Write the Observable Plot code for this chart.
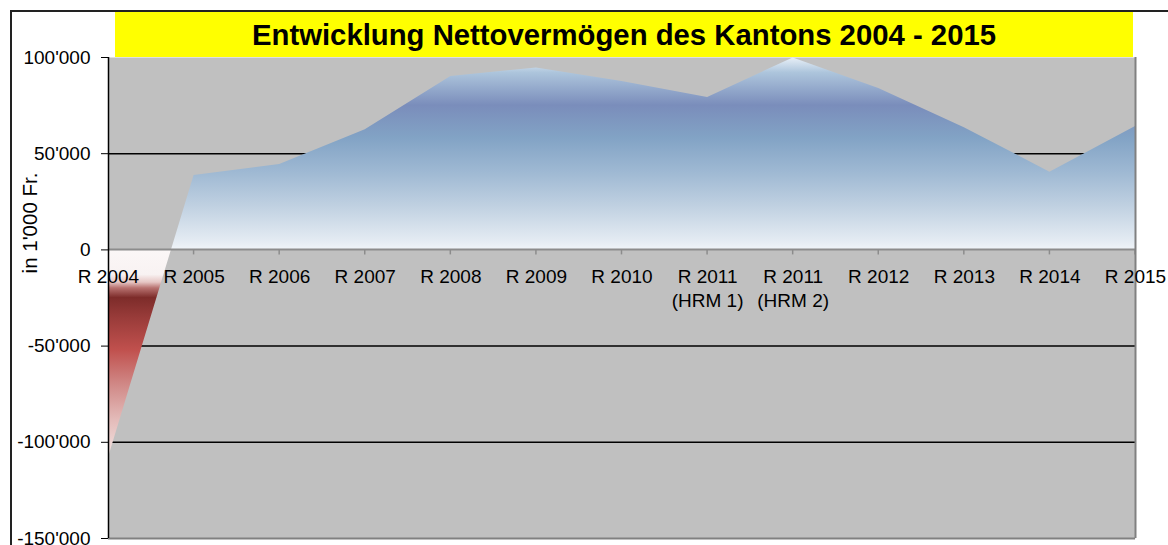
<!DOCTYPE html>
<html>
<head>
<meta charset="utf-8">
<script src="https://cdn.jsdelivr.net/npm/d3@7"></script>
<script src="https://cdn.jsdelivr.net/npm/@observablehq/plot@0.6"></script>
<style>
html,body{margin:0;padding:0;background:#fff;overflow:hidden;}
#wrap{position:relative;width:1168px;height:545px;overflow:hidden;font-family:"Liberation Sans",Arial,sans-serif;}
#border{position:absolute;left:10px;top:10px;width:2000px;height:2000px;border-left:2px solid #222;border-top:2px solid #222;pointer-events:none;z-index:2;}
#title{position:absolute;left:115px;top:12px;width:1018px;height:45px;background:#ffff00;font-weight:bold;font-size:29.3px;line-height:45px;text-align:center;color:#000;z-index:3;white-space:nowrap;}
#ylabel{position:absolute;left:30px;top:223px;transform:translate(-50%,-50%) rotate(-90deg);font-size:20.5px;line-height:20px;white-space:nowrap;color:#000;z-index:3;}
#chart{position:absolute;left:0;top:0;}
</style>
</head>
<body>
<div id="wrap">
  <div id="chart"></div>
  <div id="border"></div>
  <div id="title">Entwicklung Nettovermögen des Kantons 2004 - 2015</div>
  <div id="ylabel">in 1'000 Fr.</div>
</div>
<script>
// ---- data ----
const categories = ["R 2004", "R 2005", "R 2006", "R 2007", "R 2008", "R 2009", "R 2010",
  "R 2011\n(HRM 1)", "R 2011\n(HRM 2)", "R 2012", "R 2013", "R 2014", "R 2015"];
const netAssets = [-108000, 38700, 44400, 62500, 90100, 94600, 87500, 79200, 99800, 83900, 63500, 40400, 64100];
const yTicks = [-150000, -100000, -50000, 0, 50000, 100000];
const gridValues = [50000, -50000, -100000];

// ---- style (gradient stops by value) ----
const gradientStops = [
  [100000, "#eaf1f8"], [92000, "#adc5dc"], [75000, "#7a8dbb"], [58000, "#82a3c5"],
  [40000, "#9fb9d3"], [23000, "#bfd0e1"], [4000, "#e5ecf3"], [0, "#f0f4f8"],
  [-1, "#fbf7f7"], [-13000, "#f8f2f2"], [-17000, "#e6c6c4"], [-20000, "#b87270"],
  [-25000, "#7d2c2a"], [-35000, "#983b39"], [-52000, "#c0504d"], [-70000, "#d08886"],
  [-88000, "#e3bab8"], [-108000, "#f3e4e2"]
];

const rows = categories.map((c, i) => ({cat: c, value: netAssets[i]}));
const fmt = d3.formatLocale({decimal: ".", thousands: "'", grouping: [3], currency: ["", ""], minus: "-"}).format(",d");

const gradientMark = (index, scales) => {
  const y = scales.y;
  const top = y(yTicks[yTicks.length - 1]);
  const bottom = y(yTicks[0]);
  const defs = d3.create("svg:defs");
  const lg = defs.append("linearGradient").attr("id", "netGrad")
    .attr("gradientUnits", "userSpaceOnUse")
    .attr("x1", 0).attr("x2", 0).attr("y1", top).attr("y2", bottom);
  for (const [v, c] of gradientStops) {
    lg.append("stop").attr("offset", (y(v) - top) / (bottom - top)).attr("stop-color", c);
  }
  return defs.node();
};

const xAxisMark = (index, scales) => {
  const x = scales.x, y = scales.y;
  const y0 = y(0);
  const g = d3.create("svg:g").attr("stroke", "#8c8c8c");
  g.append("line").attr("x1", x(categories[0])).attr("x2", x(categories[categories.length - 1]))
    .attr("y1", y0).attr("y2", y0).attr("stroke-width", 2);
  for (const c of categories.slice(1)) {
    g.append("line").attr("x1", x(c)).attr("x2", x(c)).attr("y1", y0).attr("y2", y0 + 5).attr("stroke-width", 1.5);
  }
  return g.node();
};

const chart = Plot.plot({
  width: 1168,
  height: 545,
  marginLeft: 108,
  marginRight: 33,
  marginTop: 57,
  marginBottom: 7,
  style: {fontFamily: "'Liberation Sans', Arial, sans-serif", fontSize: "19px", color: "black", background: "white", overflow: "visible"},
  x: {type: "point", domain: categories, padding: 0, round: false, axis: null},
  y: {domain: [yTicks[0], yTicks[yTicks.length - 1]], ticks: yTicks, tickFormat: fmt, tickSize: 7, tickPadding: 11, label: null},
  marks: [
    Plot.frame({fill: "#c0c0c0", stroke: "none"}),
    Plot.ruleY(gridValues, {stroke: "black", strokeWidth: 1.5}),
    gradientMark,
    Plot.areaY(rows, {x: "cat", y1: d => 0, y2: "value", fill: "url(#netGrad)", curve: "linear"}),
    xAxisMark,
    Plot.ruleX([categories[categories.length - 1]], {stroke: "#808080", strokeWidth: 2}),
    Plot.ruleY([yTicks[0]], {stroke: "#808080", strokeWidth: 2}),
    Plot.ruleX([categories[0]], {stroke: "black", strokeWidth: 1.5}),
    Plot.text(rows, {x: "cat", y: d => 0, text: "cat", lineAnchor: "top", dy: 17, fontSize: 19, lineHeight: 1.23, fill: "black"})
  ]
});
document.getElementById("chart").appendChild(chart);
</script>
</body>
</html>
